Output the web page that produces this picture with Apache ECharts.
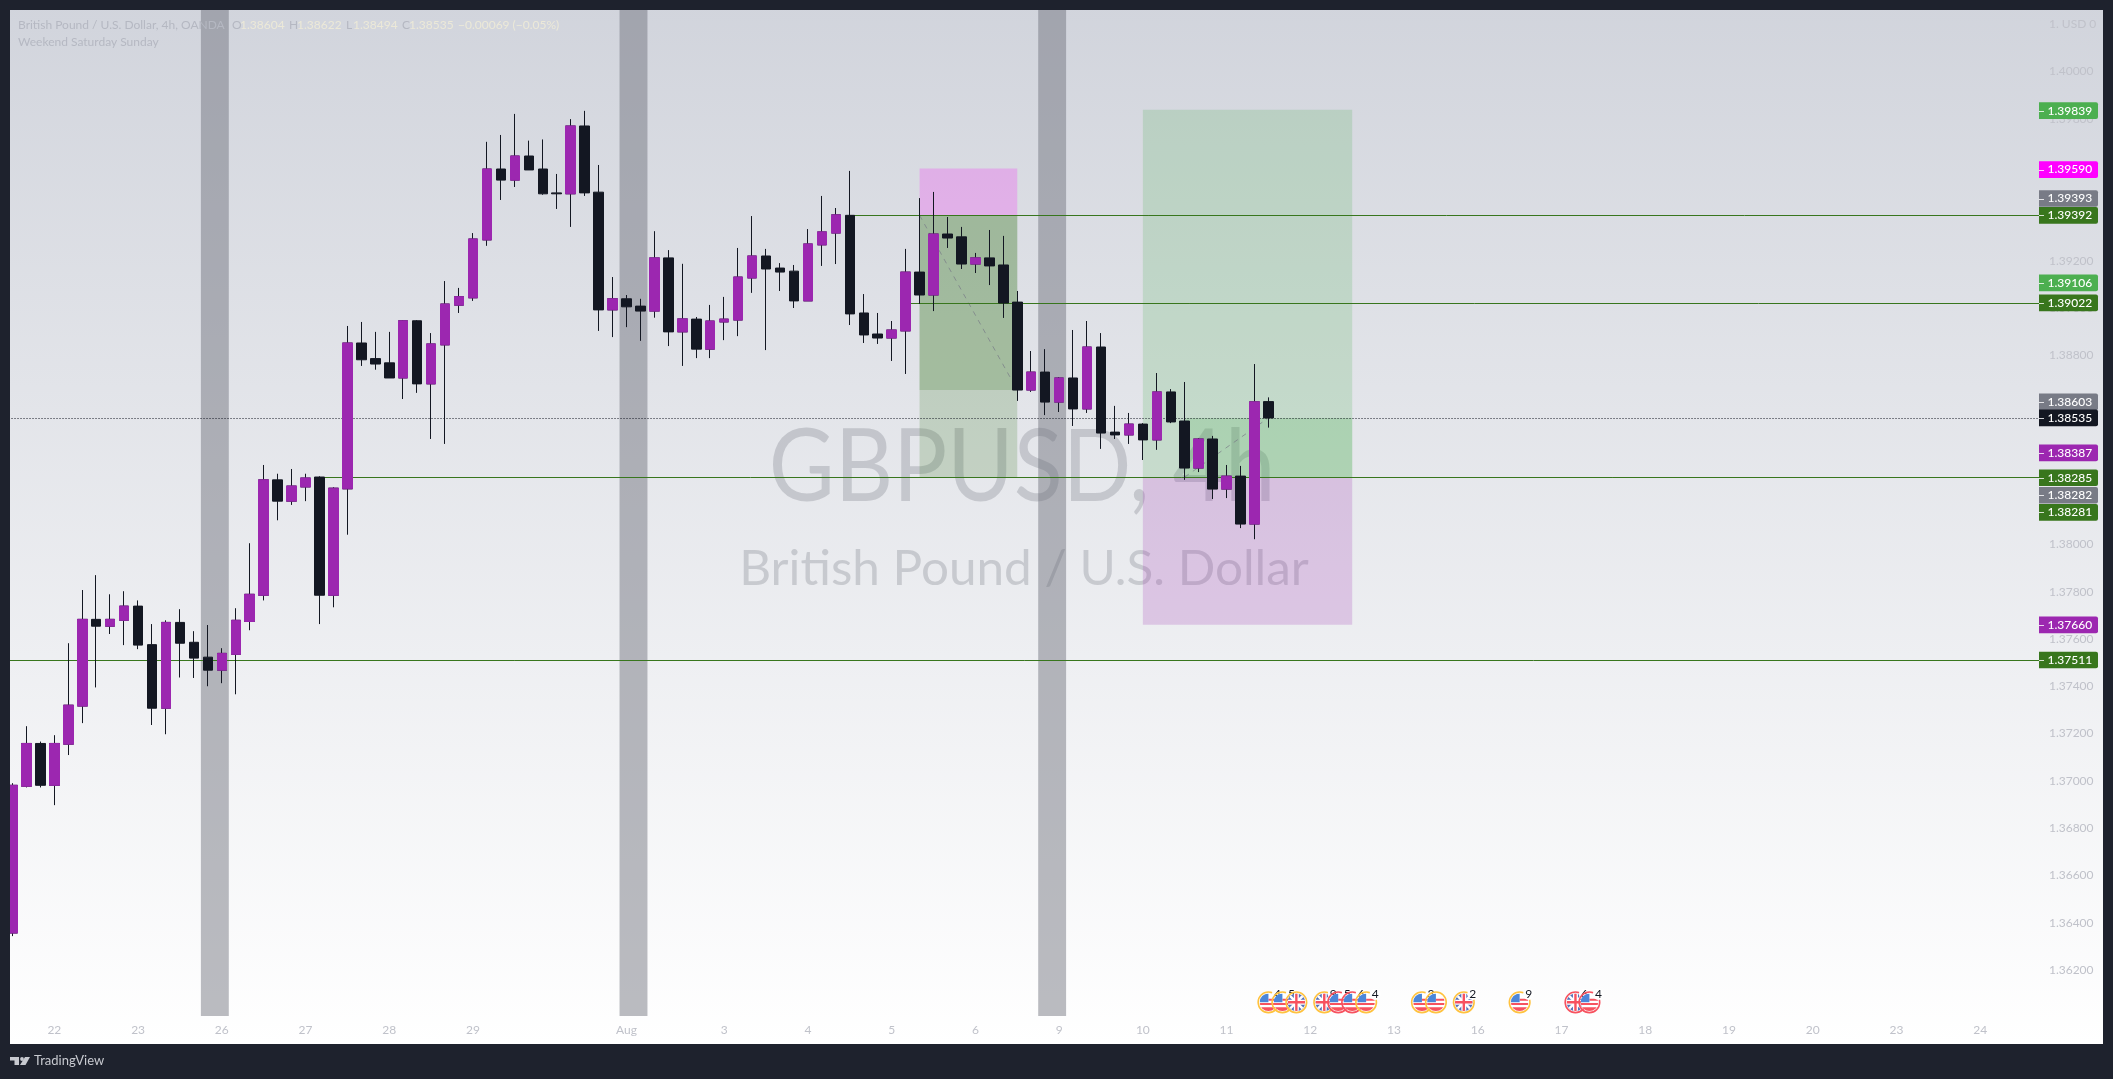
<!DOCTYPE html>
<html><head><meta charset="utf-8">
<style>html,body{margin:0;padding:0;background:#1e222d}#c{width:2113px;height:1079px}</style>
<script src="https://cdn.jsdelivr.net/npm/echarts@6/dist/echarts.min.js"></script>
</head><body><div id="c"></div>
<script>
const opens=[1.36356,1.36977,1.37158,1.36981,1.37155,1.37316,1.37683,1.37654,1.37679,1.37739,1.37576,1.37307,1.37670,1.37586,1.37523,1.37468,1.37535,1.37674,1.37785,1.38273,1.38183,1.38243,1.38285,1.37785,1.38235,1.38852,1.38786,1.38768,1.38704,1.38946,1.38679,1.38844,1.39012,1.39043,1.39288,1.39588,1.39541,1.39643,1.39588,1.39487,1.39483,1.39770,1.39490,1.38992,1.39039,1.39008,1.38987,1.39212,1.38899,1.38953,1.38826,1.38941,1.38949,1.39127,1.39220,1.39169,1.39156,1.39030,1.39267,1.39317,1.39392,1.38979,1.38890,1.38873,1.38903,1.39152,1.39055,1.39313,1.39301,1.39186,1.39212,1.39182,1.39025,1.38653,1.38729,1.38602,1.38704,1.38573,1.38835,1.38475,1.38463,1.38509,1.38442,1.38645,1.38522,1.38323,1.38446,1.38234,1.38289,1.38086,1.38604];
const closes=[1.36981,1.37158,1.36981,1.37158,1.37320,1.37683,1.37654,1.37683,1.37739,1.37574,1.37307,1.37670,1.37582,1.37519,1.37468,1.37539,1.37679,1.37789,1.38273,1.38183,1.38247,1.38281,1.37785,1.38238,1.38852,1.38781,1.38763,1.38704,1.38946,1.38679,1.38848,1.39017,1.39048,1.39292,1.39588,1.39541,1.39643,1.39584,1.39483,1.39483,1.39770,1.39487,1.38992,1.39039,1.39005,1.38987,1.39212,1.38899,1.38954,1.38826,1.38945,1.38953,1.39131,1.39220,1.39165,1.39152,1.39030,1.39271,1.39322,1.39394,1.38975,1.38886,1.38873,1.38907,1.39152,1.39055,1.39313,1.39296,1.39186,1.39212,1.39178,1.39021,1.38653,1.38729,1.38602,1.38704,1.38573,1.38835,1.38471,1.38463,1.38509,1.38442,1.38645,1.38518,1.38323,1.38446,1.38234,1.38289,1.38086,1.38603,1.38535];
const lows=[1.36343,1.36972,1.36972,1.36897,1.37109,1.37244,1.37395,1.37621,1.37574,1.37557,1.37236,1.37197,1.37437,1.37435,1.37400,1.37413,1.37366,1.37637,1.37763,1.38102,1.38167,1.38183,1.37663,1.37734,1.38041,1.38755,1.38739,1.38704,1.38615,1.38641,1.38446,1.38425,1.38979,1.39030,1.39263,1.39457,1.39512,1.39584,1.39479,1.39419,1.39343,1.39474,1.38903,1.38877,1.38919,1.38861,1.38959,1.38839,1.38755,1.38788,1.38788,1.38864,1.38881,1.39064,1.38822,1.39072,1.39000,1.39030,1.39178,1.39186,1.38928,1.38852,1.38848,1.38776,1.38721,1.39017,1.38987,1.39254,1.39165,1.39148,1.39097,1.38958,1.38607,1.38645,1.38547,1.38560,1.38501,1.38556,1.38404,1.38446,1.38425,1.38357,1.38400,1.38513,1.38273,1.38306,1.38192,1.38196,1.38069,1.38022,1.38494];
const highs=[1.36990,1.37231,1.37166,1.37193,1.37582,1.37807,1.37870,1.37789,1.37802,1.37763,1.37663,1.37679,1.37726,1.37633,1.37659,1.37561,1.37730,1.38005,1.38336,1.38299,1.38319,1.38299,1.38288,1.38242,1.38924,1.38941,1.38899,1.38899,1.38949,1.38949,1.38894,1.39114,1.39085,1.39317,1.39703,1.39732,1.39821,1.39708,1.39713,1.39567,1.39799,1.39834,1.39605,1.39131,1.39055,1.39039,1.39325,1.39245,1.39187,1.38962,1.39013,1.39047,1.39254,1.39389,1.39250,1.39190,1.39182,1.39334,1.39474,1.39423,1.39580,1.39059,1.38979,1.38945,1.39250,1.39465,1.39491,1.39385,1.39343,1.39233,1.39330,1.39305,1.39072,1.38818,1.38826,1.38708,1.38907,1.38945,1.38894,1.38586,1.38556,1.38513,1.38725,1.38657,1.38687,1.38450,1.38459,1.38336,1.38332,1.38763,1.38622];

const dayLabels=['22','23','26','27','28','29','Aug','3','4','5','6','9','10','11','12','13','16','17','18','19','20','23','24'];
const dayBars=[3,9,15,21,27,33,44,51,57,63,69,75,81,87,93,99,105,111,117,123,129,135,141];
const barCount=146;

const tickValues=[1.402,1.400,1.398,1.392,1.390,1.388,1.380,1.378,1.376,1.374,1.372,1.370,1.368,1.366,1.364,1.362];
const tickLabels=['1. USD 0','1.40000','1.39800','1.39200','1.39000','1.38800','1.38000','1.37800','1.37600','1.37400','1.37200','1.37000','1.36800','1.36600','1.36400','1.36200'];

const weekendBars=[[14,15],[44,45],[74,75]];

const levelPrices=[1.39392,1.39022,1.38285,1.37511];
const levelStartBars=[60,64,22,0];
const lastPrice=1.38535;

// long/short position drawings: startBar, endBar, priceA, priceB
const positionBoxes=[
 [65,72,1.39590,1.39392],
 [65,72,1.39392,1.38285],
 [65,72,1.39392,1.38653],
 [81,96,1.39839,1.38285],
 [84,96,1.38535,1.38285],
 [81,96,1.38285,1.37660]
];
const positionColors=['rgba(255,0,255,0.2)','rgba(56,118,29,0.2)','rgba(56,118,29,0.2)','rgba(76,175,80,0.2)','rgba(76,175,80,0.2)','rgba(156,39,176,0.2)'];
const tradeLines=[[65,1.39392,72,1.38653],[84,1.38285,90,1.38535]];

const tagPrices=[1.39839,1.39590,1.39393,1.39392,1.39106,1.39022,1.38603,1.38535,1.38387,1.38285,1.38282,1.38281,1.37660,1.37511];
const tagColors=['#4caf50','#ff00ff','#787b86','#38761d','#4caf50','#38761d','#787b86','#131722','#9c27b0','#38761d','#787b86','#38761d','#9c27b0','#38761d'];
const tagShifts=[1,1,-16.6,0,0,0,0,0,0,0.7,17.5,34.3,0,0];

const eventBars=[90,91,92,94,95,96,97,101,102,104,108,112,113];
const eventFlags=['US','US','UK','UK','US','US','US','US','US','UK','US','UK','US'];
const eventCounts=['4','5','','9','5','6','4','3','','2','9','6','4'];
const eventRings=['#ffc23e','#ffc23e','#ffc23e','#ffc23e','#f7525f','#f7525f','#ffc23e','#ffc23e','#ffc23e','#ffc23e','#ffc23e','#f7525f','#f7525f'];

const FONT='Lato';
const UP='#9c27b0',DOWN='#131722',FRAME='#1e222d',GREY='#c0c2ca';
const categories=Array.from({length:barCount},(_,i)=>{const k=dayBars.indexOf(i);return k<0?'':dayLabels[k];});
const candles=opens.map((o,i)=>[o,closes[i],lows[i],highs[i]]);
const upBodies=opens.map((o,i)=>closes[i]>o?[o,closes[i],o,closes[i]]:'-');
const BAR=13.955, LEFT=5.52, TOP=10, PANE=1006;
const YMAX=1.402606, YMIN=1.360051;

function t(text,x,y,fill,size,extra){return Object.assign({type:'text',x:x,y:y,z:100,silent:true,
  style:{text:text,fill:fill,fontFamily:FONT,fontSize:size||12,align:'left',verticalAlign:'middle'}},extra||{});}
const legendGrey='#b5b8c2',cream='#ece9d8';
const frameRects=[[0,0,2113,10],[0,0,10,1079],[2103,0,10,1079],[0,1044,2113,35]].map(r=>({type:'rect',z:90,silent:true,shape:{x:r[0],y:r[1],width:r[2],height:r[3]},style:{fill:FRAME}}));
const logoParts=[
 {type:'polygon',z:100,silent:true,shape:{points:[[10,1057],[19,1057],[19,1065],[14.5,1065],[14.5,1060.5],[10,1060.5]]},style:{fill:'#c8cad0'}},
 {type:'circle',z:100,silent:true,shape:{cx:22,cy:1059,r:1.9},style:{fill:'#c8cad0'}},
 {type:'polygon',z:100,silent:true,shape:{points:[[25,1057],[30,1057],[25.5,1065],[20,1065]]},style:{fill:'#c8cad0'}}
];

const option={
 animation:false,
 backgroundColor:new echarts.graphic.LinearGradient(0,0,0,1,[{offset:0,color:'#d1d4dc'},{offset:0.968,color:'#ffffff'},{offset:1,color:'#ffffff'}]),
 grid:{left:LEFT,top:TOP,width:BAR*barCount,height:PANE,containLabel:false},
 xAxis:{type:'category',data:categories,boundaryGap:true,axisLine:{show:false},axisTick:{show:false},splitLine:{show:false},
  axisLabel:{interval:(i,v)=>v!=='',color:GREY,fontFamily:FONT,fontSize:12,margin:8,hideOverlap:false}},
 yAxis:{type:'value',position:'right',min:YMIN,max:YMAX,scale:true,axisLine:{show:false},splitLine:{show:false},
  axisTick:{show:false},
  axisLabel:{customValues:tickValues,inside:false,margin:6,color:GREY,fontFamily:FONT,fontSize:12,
   formatter:v=>{let k=-1,b=1;tickValues.forEach((tv,j)=>{const d=Math.abs(tv-v);if(d<b){b=d;k=j;}});return tickLabels[k];}}},
 graphic:{elements:[
  {type:'text',z:0,silent:true,x:1022,y:469,scaleX:0.903,style:{text:'GBPUSD, 4h',fill:'rgba(120,123,134,0.3)',fontFamily:FONT,fontSize:100,align:'center',verticalAlign:'middle'}},
  {type:'text',z:0,silent:true,x:1024,y:570,scaleX:1.03,style:{text:'British Pound / U.S. Dollar',fill:'rgba(120,123,134,0.3)',fontFamily:FONT,fontSize:48,align:'center',verticalAlign:'middle'}},
  ...frameRects,...logoParts,
  t('TradingView',34,1061,'#c8cad0',13),
  t('British Pound / U.S. Dollar, 4h, OANDA',18,25,legendGrey),
  t('O',232,25,legendGrey),t('1.38604',240,25,cream),
  t('H',289,25,legendGrey),t('1.38622',297,25,cream),
  t('L',346,25,legendGrey),t('1.38494',353,25,cream),
  t('C',402,25,legendGrey),t('1.38535',409,25,cream),
  t('\u22120.00069 (\u22120.05%)',458,25,cream),
  t('Weekend Saturday Sunday',18,42,legendGrey)
 ]},
 series:[
  {type:'custom',name:'weekends',z:1,silent:true,data:weekendBars,renderItem:(p,api)=>{
    const a=api.coord([api.value(0),YMAX]),b=api.coord([api.value(1),YMAX]),w=api.size([1,0])[0],cs=p.coordSys;
    return {type:'rect',shape:{x:a[0]-w/2,y:cs.y,width:b[0]-a[0]+w,height:cs.height},style:{fill:'rgba(104,106,118,0.45)'}};}},
  {type:'custom',name:'positions',z:2,silent:true,data:positionBoxes,renderItem:(p,api)=>{
    const a=api.coord([api.value(0),api.value(2)]),b=api.coord([api.value(1),api.value(3)]);
    return {type:'rect',shape:{x:a[0],y:a[1],width:b[0]-a[0],height:b[1]-a[1]},style:{fill:positionColors[p.dataIndex]}};}},
  {type:'custom',name:'trades',z:3,silent:true,data:tradeLines,renderItem:(p,api)=>{
    const a=api.coord([api.value(0),api.value(1)]),b=api.coord([api.value(2),api.value(3)]);
    return {type:'line',shape:{x1:a[0],y1:a[1],x2:b[0],y2:b[1]},style:{stroke:'rgba(120,123,134,0.7)',lineWidth:1,lineDash:[5,5]}};}},
  {type:'custom',name:'levels',z:4,silent:true,data:levelPrices.map((v,i)=>[levelStartBars[i],v]),renderItem:(p,api)=>{
    const a=api.coord([api.value(0),api.value(1)]),cs=p.coordSys,y=Math.round(a[1])+0.5;
    const x0=p.dataIndex===3?cs.x:a[0];
    return {type:'line',shape:{x1:x0,y1:y,x2:cs.x+cs.width,y2:y},style:{stroke:'#38761d',lineWidth:1}};}},
  {type:'custom',name:'last',z:4,silent:true,data:[[0,lastPrice]],renderItem:(p,api)=>{
    const a=api.coord([0,api.value(1)]),cs=p.coordSys,y=Math.round(a[1])+0.5;
    return {type:'line',shape:{x1:cs.x,y1:y,x2:cs.x+cs.width,y2:y},style:{stroke:'#131722',lineWidth:1,lineDash:[1,2]}};}},
  {type:'candlestick',name:'GBPUSD',z:5,data:candles,barWidth:10,
   itemStyle:{color:DOWN,color0:DOWN,borderColor:DOWN,borderColor0:DOWN,borderWidth:1}},
  {type:'candlestick',name:'GBPUSD up bodies',z:5,data:upBodies,barWidth:10,
   itemStyle:{color:UP,color0:UP,borderColor:UP,borderColor0:UP,borderWidth:1}},
  {type:'custom',name:'events',z:6,silent:true,clip:false,data:eventBars.map((b,i)=>[b,1.36063]),renderItem:(p,api)=>{
    const c=api.coord([api.value(0),api.value(1)]),i=p.dataIndex,cx=c[0],cy=c[1],R=8.8;
    const us=eventFlags[i]==='US',kids=[];
    const clip={type:'circle',shape:{cx:cx,cy:cy,r:R}};
    const fl=[];
    if(us){
      fl.push({type:'rect',shape:{x:cx-R,y:cy-R,width:2*R,height:2*R},style:{fill:'#ffffff'}});
      fl.push({type:'rect',shape:{x:cx-R,y:cy+5,width:2*R,height:4,},style:{fill:'#f7525f'}});
      fl.push({type:'rect',shape:{x:cx-R,y:cy+0.8,width:2*R,height:2},style:{fill:'#f7525f'}});
      fl.push({type:'rect',shape:{x:cx,y:cy-3.5,width:R,height:2},style:{fill:'#f7525f'}});
      fl.push({type:'rect',shape:{x:cx-R,y:cy-R,width:R,height:R},style:{fill:'#4c86d9'}});
    }else{
      fl.push({type:'rect',shape:{x:cx-R,y:cy-R,width:2*R,height:2*R},style:{fill:'#5670b8'}});
      fl.push({type:'line',shape:{x1:cx-R,y1:cy-R,x2:cx+R,y2:cy+R},style:{stroke:'#fff',lineWidth:2.5}});
      fl.push({type:'line',shape:{x1:cx-R,y1:cy+R,x2:cx+R,y2:cy-R},style:{stroke:'#fff',lineWidth:2.5}});
      fl.push({type:'rect',shape:{x:cx-R,y:cy-2.5,width:2*R,height:5},style:{fill:'#fff'}});
      fl.push({type:'rect',shape:{x:cx-2.5,y:cy-R,width:5,height:2*R},style:{fill:'#fff'}});
      fl.push({type:'rect',shape:{x:cx-R,y:cy-1.2,width:2*R,height:2.4},style:{fill:'#f7525f'}});
      fl.push({type:'rect',shape:{x:cx-1.2,y:cy-R,width:2.4,height:2*R},style:{fill:'#f7525f'}});
    }
    kids.push({type:'circle',shape:{cx:cx,cy:cy,r:R+1.5},style:{fill:'none',stroke:eventRings[i],lineWidth:1.6}});
    kids.push({type:'group',clipPath:clip,children:fl});
    if(eventCounts[i]){
      kids.push({type:'circle',shape:{cx:cx+9,cy:cy-8,r:5.6},style:{fill:'#fff'}});
      kids.push({type:'text',style:{x:cx+9,y:cy-8,text:eventCounts[i],fill:'#131722',fontFamily:FONT,fontSize:12,align:'center',verticalAlign:'middle'}});
    }
    return {type:'group',children:kids};}},
  {type:'custom',name:'tags',z:20,silent:true,clip:false,data:tagPrices.map((v,i)=>[0,v]),renderItem:(p,api)=>{
    const i=p.dataIndex,c=api.coord([0,api.value(1)]),y=c[1]+tagShifts[i],X=2039,W=59,H=16.7;
    return {type:'group',children:[
      {type:'rect',shape:{x:X,y:y-H/2,width:W,height:H,r:[0,2,2,0]},style:{fill:tagColors[i]}},
      {type:'line',shape:{x1:X,y1:Math.round(y)+0.5,x2:X+5,y2:Math.round(y)+0.5},style:{stroke:'rgba(255,255,255,0.8)',lineWidth:1}},
      {type:'text',style:{x:2047.5,y:y,text:tagPrices[i].toFixed(5),fill:'#ffffff',fontFamily:FONT,fontSize:12,fontWeight:500,align:'left',verticalAlign:'middle'}}
    ]};}}
 ]
};
const chart=echarts.init(document.getElementById('c'),null,{renderer:'canvas',width:2113,height:1079});
chart.setOption(option);
</script></body></html>
